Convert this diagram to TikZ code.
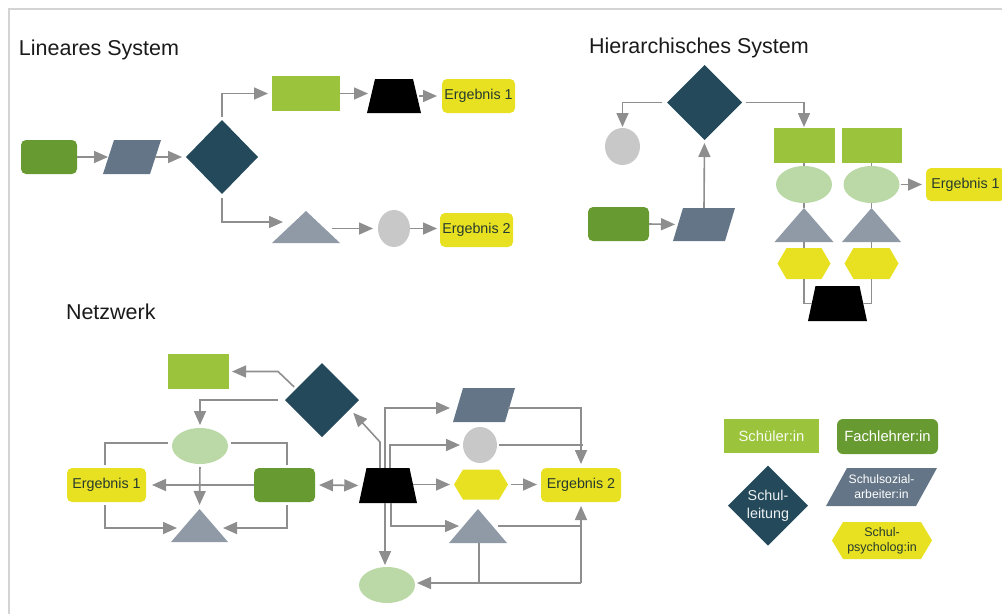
\documentclass[tikz,border=0pt]{standalone}
\usepackage{fontspec}
\setmainfont{Liberation Sans}
\usetikzlibrary{arrows.meta,calc,shapes.geometric}
\definecolor{cls}{HTML}{9BC43C}
\definecolor{cfl}{HTML}{679A31}
\definecolor{csa}{HTML}{647587}
\definecolor{csl}{HTML}{24495A}
\definecolor{ctri}{HTML}{8F9AA6}
\definecolor{cci}{HTML}{C8C8C8}
\definecolor{cel}{HTML}{BAD9A6}
\definecolor{cye}{HTML}{E8E122}
\definecolor{carr}{HTML}{8E8E8E}
\definecolor{cfr}{HTML}{D4D4D4}
\definecolor{ctxt}{HTML}{263A2E}
\definecolor{ctit}{HTML}{1A1A1A}
\begin{document}
\begin{tikzpicture}[x=1pt,y=-1pt,
  base/.style={inner sep=0pt, outer sep=0pt},
  sbox/.style={base, rectangle, fill=cls},
  fbox/.style={base, rectangle, fill=cfl, rounded corners=5pt},
  dia/.style={base, diamond, fill=csl},
  ell/.style={base, ellipse, fill=cel},
  circ/.style={base, ellipse, fill=cci},
  erg/.style={base, rectangle, fill=cye, rounded corners=5pt, text=ctxt, font=\fontsize{14.3}{16}\selectfont},
  tri/.style={base, rectangle, path picture={\fill[ctri] (path picture bounding box.south west) -- (path picture bounding box.north) -- (path picture bounding box.south east) -- cycle;}},
  trap/.style={base, rectangle, path picture={\fill[black] (path picture bounding box.south west) -- ([xshift=#1]path picture bounding box.north west) -- ([xshift=-#1]path picture bounding box.north east) -- (path picture bounding box.south east) -- cycle;}},
  trap/.default=8pt,
  para/.style={base, rectangle, path picture={\fill[csa] (path picture bounding box.south west) -- ([xshift=#1]path picture bounding box.north west) -- (path picture bounding box.north east) -- ([xshift=-#1]path picture bounding box.south east) -- cycle;}},
  para/.default=10pt,
  hexa/.style={base, rectangle, path picture={\fill[cye] ([xshift=#1]path picture bounding box.north west) -- ([xshift=-#1]path picture bounding box.north east) -- (path picture bounding box.east) -- ([xshift=-#1]path picture bounding box.south east) -- ([xshift=#1]path picture bounding box.south west) -- (path picture bounding box.west) -- cycle;}},
  hexa/.default=9pt,
  ln/.style={draw=carr, line width=1.6pt},
  arr/.style={ln, -{Triangle[length=14pt,width=12pt]}},
  darr/.style={ln, {Triangle[length=14pt,width=12pt]}-{Triangle[length=14pt,width=12pt]}},
  title/.style={base, anchor=base west, text=ctit, font=\fontsize{21.5}{24}\selectfont},
  leg/.style={align=center, text=white}
]
\useasboundingbox (0,0) rectangle (1002,614);
\draw[cfr, line width=1.5pt] (1002,9) -- (9,9) -- (9,614);

% ---------- Lineares System
\node[title] (t1) at (19,55) {Lineares System};
\node[fbox, minimum width=56pt, minimum height=34pt] (LFL) at (49,157) {};
\node[para=11pt, minimum width=58pt, minimum height=34pt] (LSA) at (132,157) {};
\node[dia, minimum width=72pt, minimum height=74pt] (LSL) at (222,157) {};
\node[sbox, minimum width=68pt, minimum height=35pt] (LSC) at (306,93.5) {};
\node[trap=8pt, minimum width=54pt, minimum height=34pt] (LTR) at (394,96) {};
\node[erg, minimum width=73pt, minimum height=34pt] (LE1) at (478.5,96) {Ergebnis 1};
\node[tri, minimum width=68pt, minimum height=32pt] (LTRI) at (306,227) {};
\node[circ, minimum width=32pt, minimum height=37pt] (LCI) at (394,228.5) {};
\node[erg, minimum width=73pt, minimum height=34pt] (LE2) at (476.5,230) {Ergebnis 2};

\draw[arr] (LFL.east) -- ([xshift=5pt]LSA.west);
\draw[arr] ([xshift=-6pt]LSA.east) -- ([xshift=-4pt]LSL.west);
\draw[arr, shorten <=3pt, shorten >=4pt] (LSL.north) |- (LSC.west);
\draw[arr, shorten <=4pt] (LSL.south) |- ([xshift=11pt,yshift=5pt]LTRI.west);
\draw[arr, shorten >=5pt] ([xshift=-8pt]LTRI.east |- LCI.west) -- (LCI.west);
\draw[arr] (LSC.east) -- ([xshift=1pt]LSC.east -| LTR.west);
\draw[arr, shorten >=5pt] ([xshift=-2pt]LTR.east) -- (LE1.west);
\draw[arr, shorten >=3pt] (LCI.east) -- (LCI.east -| LE2.west);

% ---------- Hierarchisches System
\node[title] (t2) at (589,53) {Hierarchisches System};
\node[dia, minimum width=75pt, minimum height=75pt] (HSL) at (704.5,102.5) {};
\node[circ, minimum width=35pt, minimum height=37pt] (HCI) at (622.5,146.5) {};
\node[sbox, minimum width=61pt, minimum height=35pt] (HS1) at (804,145.5) {};
\node[sbox, minimum width=60pt, minimum height=35pt] (HS2) at (871.5,145.5) {};
\node[ell, minimum width=56pt, minimum height=37pt] (HEL1) at (804,184.5) {};
\node[ell, minimum width=56pt, minimum height=37pt] (HEL2) at (871.5,184.5) {};
\node[tri, minimum width=59pt, minimum height=34pt] (HTRI1) at (804,225) {};
\node[tri, minimum width=59pt, minimum height=34pt] (HTRI2) at (871.5,225) {};
\node[hexa=9pt, minimum width=53pt, minimum height=31pt] (HHEX1) at (804,263.5) {};
\node[hexa=9pt, minimum width=54pt, minimum height=31pt] (HHEX2) at (871.5,263.5) {};
\node[trap=7.5pt, minimum width=59pt, minimum height=35pt] (HTR) at (837.5,303.5) {};
\node[fbox, minimum width=61pt, minimum height=34pt] (HFL) at (618.5,224) {};
\node[para=10pt, minimum width=62pt, minimum height=33pt] (HSA) at (704,224.5) {};
\node[erg, minimum width=79pt, minimum height=33pt] (HE1) at (965.5,184.5) {Ergebnis 1};

\draw[arr, shorten <=5pt, shorten >=1pt] (HSL.west) -| (HCI.north);
\draw[arr, shorten <=4pt, shorten >=1pt] (HSL.east) -| (HS1.north);
\draw[ln] (HS1.south) -- (HEL1.north);
\draw[ln] (HEL1.south) -- (HTRI1.north);
\draw[ln] (HTRI1.south) -- (HHEX1.north);
\draw[ln] (HS2.south) -- (HEL2.north);
\draw[ln] (HEL2.south) -- (HTRI2.north);
\draw[ln] (HTRI2.south) -- (HHEX2.north);
\draw[ln] (HHEX1.south) |- ([xshift=4pt]HTR.west);
\draw[ln] (HHEX2.south) |- ([xshift=-4pt]HTR.east);
\draw[arr, shorten <=1pt, shorten >=4pt] (HEL2.east) -- (HE1.west);
\draw[arr, shorten >=3pt] (HFL.east) -- ([xshift=5pt]HSA.west);
\draw[arr, shorten >=3pt] (HSA.north) -- (HSL.south);

% ---------- Netzwerk
\node[title] (t3) at (66,319) {Netzwerk};
\node[sbox, minimum width=61pt, minimum height=35pt] (NSC) at (198.5,371.5) {};
\node[dia, minimum width=74pt, minimum height=74pt] (NSL) at (322,400) {};
\node[ell, minimum width=56pt, minimum height=36pt] (NEL) at (200,446) {};
\node[erg, minimum width=79pt, minimum height=34pt] (NE1) at (106.5,485) {Ergebnis 1};
\node[fbox, minimum width=61pt, minimum height=34pt] (NFL) at (284.5,485) {};
\node[tri, minimum width=57pt, minimum height=33pt] (NTRI) at (199.5,525.5) {};
\node[trap=7.5pt, minimum width=58pt, minimum height=35pt] (NTR) at (388,485.5) {};
\node[para=10pt, minimum width=62pt, minimum height=34pt] (NSA) at (484,405) {};
\node[circ, minimum width=34pt, minimum height=36pt] (NCI) at (480,445) {};
\node[hexa=9pt, minimum width=54pt, minimum height=30pt] (NHEX) at (481,484.5) {};
\node[erg, minimum width=80pt, minimum height=34pt] (NE2) at (581,485) {Ergebnis 2};
\node[tri, minimum width=58pt, minimum height=34pt] (NTRI2) at (478,526) {};
\node[ell, minimum width=56pt, minimum height=36pt] (NEL2) at (387,585) {};

\draw[arr, shorten >=3pt] ($(NSL.west)!0.3!(NSL.north)+(-2,-2)$) -- ([xshift=49pt]NSC.east) -- (NSC.east);
\draw[arr, shorten <=7pt, shorten >=3pt] (NSL.west) -| (NEL.north);
\draw[ln, shorten <=4pt, shorten >=3pt] ([yshift=3pt]NEL.west) -| ([xshift=-1.5pt]NE1.north);
\draw[ln, shorten <=3pt, shorten >=3pt] ([yshift=3pt]NEL.east) -| ([xshift=2.5pt]NFL.north);
\draw[arr, shorten >=6pt] (NFL.west) -- (NE1.east);
\draw[arr, shorten <=3pt, shorten >=4pt] (NEL.south) -- (NTRI.north);
\draw[arr, shorten <=3pt] ([xshift=-1.5pt]NE1.south) |- ([xshift=-22.5pt,yshift=-2.5pt]NTRI.center);
\draw[arr, shorten <=3pt] ([xshift=2.5pt]NFL.south) |- ([xshift=23.5pt,yshift=-2.5pt]NTRI.center);
\draw[darr, shorten <=4pt, shorten >=4.5pt] (NFL.east) -- ([xshift=3.75pt]NTR.west);
\draw[arr] ([xshift=-8pt]NTR.north) -- ++(0,-26) -- ($(NSL.east)!0.25!(NSL.south)+(3.5,3.5)$);
\draw[arr] ([xshift=-3pt]NTR.north) |- ([xshift=-3pt,yshift=-3pt]NSA.west);
\draw[arr] ([xshift=2pt]NTR.north) |- ([xshift=-3pt]NCI.west);
\draw[arr, shorten >=4pt] ([xshift=-4pt]NTR.east |- NHEX.west) -- (NHEX.west);
\draw[arr, shorten <=3pt, shorten >=4pt] (NHEX.east) -- (NHEX.east -| NE2.west);
\draw[arr, shorten >=4pt] ([xshift=-7pt,yshift=-3pt]NSA.east) -| (NE2.north);
\draw[ln] ([xshift=2pt]NCI.east) -- ([xshift=2pt]NCI.east -| NE2.north);
\draw[arr] ([xshift=3pt]NTR.south) |- ([xshift=-19pt]NTRI2.center);
\draw[arr, shorten >=4pt] ([xshift=20pt]NTRI2.center) -| (NE2.south);
\draw[arr, shorten >=2pt] ([xshift=-3pt]NTR.south) -- ([xshift=-3pt]NTR.south |- NEL2.north);
\coordinate (nbr) at ($(NE2.south |- NEL2.east)+(0,-2)$);
\draw[ln] (nbr) -- (nbr |- NTRI2.center);
\draw[arr, shorten >=2pt] (nbr) -- (nbr -| NEL2.east);
\draw[ln] ([xshift=1pt]NTRI2.south) -- ([xshift=1pt]NTRI2.south |- nbr);

% ---------- Legende
\node[sbox, leg, text=cls!8, minimum width=95pt, minimum height=34pt, font=\fontsize{14.8}{17}\selectfont] (GSC) at (771.5,436) {Schüler:in};
\node[fbox, leg, rounded corners=6pt, minimum width=101pt, minimum height=35pt, font=\fontsize{14.8}{17}\selectfont] (GFL) at (887.5,436.5) {Fachlehrer:in};
\node[dia, leg, text=white!92!csl, minimum width=80pt, minimum height=80pt, font=\fontsize{14.3}{18}\selectfont] (GSL) at (768,505.5) {Schul-\\leitung};
\node[para=21pt, leg, minimum width=111pt, minimum height=38pt, font=\fontsize{12.2}{15}\selectfont] (GSA) at (881.5,487) {Schulsozial-\\arbeiter:in};
\node[hexa=11pt, leg, text=ctxt, minimum width=100pt, minimum height=37pt, font=\fontsize{12.5}{15}\selectfont] (GHX) at (882,540.5) {Schul-\\psycholog:in};
\end{tikzpicture}
\end{document}
